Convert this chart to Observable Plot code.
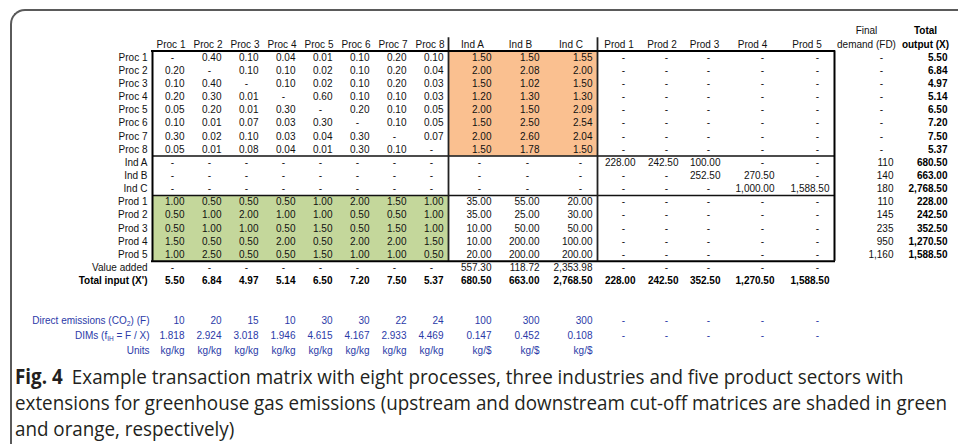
<!DOCTYPE html>
<html><head><meta charset="utf-8">
<script src="https://cdn.jsdelivr.net/npm/d3@7"></script>
<script src="https://cdn.jsdelivr.net/npm/@observablehq/plot@0.6"></script>
<style>
html,body{margin:0;padding:0;background:#fff;width:958px;height:444px;overflow:hidden;}
#frame{position:absolute;left:10px;top:9px;width:1000px;height:500px;border-left:2px solid #5a5a5a;border-top:2px solid #5a5a5a;border-top-left-radius:15px;box-sizing:border-box;}
#chart{position:absolute;left:0;top:0;width:958px;}
#chart svg{display:block;}
#caption{position:absolute;left:15px;top:363px;line-height:26px;color:#231f20;white-space:nowrap;transform-origin:0 0;}
#caption b{margin-right:10px;}
</style></head>
<body>
<div id="frame"></div>
<div id="chart"></div>
<div id="caption"></div>
<script>
// ---------- data ----------
const procCols = ["Proc 1","Proc 2","Proc 3","Proc 4","Proc 5","Proc 6","Proc 7","Proc 8"];
const indCols = ["Ind A","Ind B","Ind C"];
const prodCols = ["Prod 1","Prod 2","Prod 3","Prod 4","Prod 5"];
const sectorCols = [...procCols, ...indCols, ...prodCols];
const sectorRows = sectorCols;
const fdHeader = ["Final", "demand (FD)"];
const toHeader = ["Total", "output (X)"];
const vaLabel = "Value added";
const tiLabel = "Total input (X')";
const extLabels = ["Direct emissions (CO2) (F)", "DIMs (fIH = F / X)", "Units"];

const procProc = [
  [null,0.40,0.10,0.04,0.01,0.10,0.20,0.10],
  [0.20,null,0.10,0.10,0.02,0.10,0.20,0.04],
  [0.10,0.40,null,0.10,0.02,0.10,0.20,0.03],
  [0.20,0.30,0.01,null,0.60,0.10,0.10,0.03],
  [0.05,0.20,0.01,0.30,null,0.20,0.10,0.05],
  [0.10,0.01,0.07,0.03,0.30,null,0.10,0.05],
  [0.30,0.02,0.10,0.03,0.04,0.30,null,0.07],
  [0.05,0.01,0.08,0.04,0.01,0.30,0.10,null]
];
const procInd = [
  [1.50,1.50,1.55],[2.00,2.08,2.00],[1.50,1.02,1.50],[1.20,1.30,1.30],
  [2.00,1.50,2.09],[1.50,2.50,2.54],[2.00,2.60,2.04],[1.50,1.78,1.50]
];
const indProd = [
  [228.00,242.50,100.00,null,null],
  [null,null,252.50,270.50,null],
  [null,null,null,1000.00,1588.50]
];
const prodProc = [
  [1.00,0.50,0.50,0.50,1.00,2.00,1.50,1.00],
  [0.50,1.00,2.00,1.00,1.00,0.50,0.50,1.00],
  [0.50,1.00,1.00,0.50,1.50,0.50,1.50,1.00],
  [1.50,0.50,0.50,2.00,0.50,2.00,2.00,1.50],
  [1.00,2.50,0.50,0.50,1.50,1.00,1.00,0.50]
];
const prodInd = [
  [35.00,55.00,20.00],[35.00,25.00,30.00],[10.00,50.00,50.00],
  [10.00,200.00,100.00],[20.00,200.00,200.00]
];
const finalDemand = [null,null,null,null,null,null,null,null, 110,140,180, 110,145,235,950,1160];
const totalOutput = [5.50,6.84,4.97,5.14,6.50,7.20,7.50,5.37, 680.50,663.00,2768.50, 228.00,242.50,352.50,1270.50,1588.50];
const valueAdded = [null,null,null,null,null,null,null,null, 557.30,118.72,2353.98, null,null,null,null,null];
const totalInput = [5.50,6.84,4.97,5.14,6.50,7.20,7.50,5.37, 680.50,663.00,2768.50, 228.00,242.50,352.50,1270.50,1588.50];
const directEmissions = [10,20,15,10,30,30,22,24, 100,300,300, null,null,null,null,null];
const dims = [1.818,2.924,3.018,1.946,4.615,4.167,2.933,4.469, 0.147,0.452,0.108, null,null,null,null,null];
const units = ["kg/kg","kg/kg","kg/kg","kg/kg","kg/kg","kg/kg","kg/kg","kg/kg","kg/$","kg/$","kg/$","","","","",""];

// ---------- layout (sizes & styles) ----------
const labelWidth = 152;
const colKeys = [...sectorCols, "FD", "TO"];
const colWidths = [37,37,37,37,37,37,37,37, 48,48,53, 43,43,42,54,55, 64,54];
const FONT = "Liberation Sans, Arial, Helvetica, sans-serif";
const FS = 10;
const BLUE = "#2b3aa8";
const ORANGE = "#fac090";
const GREEN = "#c4d79b";

const colLeft = {}, colRight = {};
{ let acc = labelWidth; colKeys.forEach((k,i)=>{ colLeft[k]=acc; acc+=colWidths[i]; colRight[k]=acc; }); }
const colCenter = k => (colLeft[k]+colRight[k])/2;

const fmt2 = d3.format(",.2f"), fmt0 = d3.format(","), fmt3 = d3.format(".3f");

const matrix = sectorRows.map(r => sectorCols.map(c => {
  const pi = procCols.indexOf(r), ii = indCols.indexOf(r), qi = prodCols.indexOf(r);
  const pj = procCols.indexOf(c), ij = indCols.indexOf(c), qj = prodCols.indexOf(c);
  if (pi >= 0 && pj >= 0) return procProc[pi][pj];
  if (pi >= 0 && ij >= 0) return procInd[pi][ij];
  if (ii >= 0 && qj >= 0) return indProd[ii][qj];
  if (qi >= 0 && pj >= 0) return prodProc[qi][pj];
  if (qi >= 0 && ij >= 0) return prodInd[qi][ij];
  return null;
}));

const rowKeys = ["h0","h1", ...sectorRows, vaLabel, tiLabel];
const ri = k => rowKeys.indexOf(k);

const cells = [];
sectorRows.forEach((r,i)=>{
  sectorCols.forEach((c,j)=>{ const v = matrix[i][j]; cells.push({row:r,col:c,text:v==null?"-":fmt2(v),dash:v==null}); });
  const fd = finalDemand[i]; cells.push({row:r,col:"FD",text:fd==null?"-":fmt0(fd),dash:fd==null});
  cells.push({row:r,col:"TO",text:fmt2(totalOutput[i]),bold:true});
});
sectorCols.forEach((c,j)=>{
  const v = valueAdded[j]; cells.push({row:vaLabel,col:c,text:v==null?"-":fmt2(v),dash:v==null});
  cells.push({row:tiLabel,col:c,text:fmt2(totalInput[j]),bold:true});
});

const headers = sectorCols.map(c=>({col:c,row:"h1",text:c}));
headers.push({col:"FD",row:"h0",text:fdHeader[0]},{col:"FD",row:"h1",text:fdHeader[1]});
const boldHeaders = [{col:"TO",row:"h0",text:toHeader[0]},{col:"TO",row:"h1",text:toHeader[1]}];

const rowLabels = [...sectorRows, vaLabel].map(r=>({row:r,text:r}));
const rowLabelsBold = [{row:tiLabel,text:tiLabel}];

const X = d => colRight[d.col];
const XC = d => colCenter(d.col);
const Y = d => ri(d.row) + 0.5;

const blockRect = (cols, rows) => ({x1: colLeft[cols[0]], x2: colRight[cols[cols.length-1]], y1: ri(rows[0]), y2: ri(rows[rows.length-1])+1});
const boxL = colLeft[sectorCols[0]], boxR = colRight[sectorCols[sectorCols.length-1]];
const topY = ri(sectorRows[0]), botY = ri(prodCols[prodCols.length-1]) + 1;

const common = {
  width: 958, margin: 0,
  x: {domain:[0,958], range:[0,958], axis:null},
  style: {fontFamily: FONT, fontSize: FS+"px", background:"transparent", overflow:"visible"}
};

const plot1 = Plot.plot({
  ...common,
  height: 300,
  y: {domain:[0, rowKeys.length], range:[24.1, 24.1 + rowKeys.length*13.15], axis:null},
  marks: [
    Plot.rect([blockRect(indCols, procCols)], {x1:"x1",x2:"x2",y1:"y1",y2:"y2",fill:ORANGE}),
    Plot.rect([blockRect(procCols, prodCols)], {x1:"x1",x2:"x2",y1:"y1",y2:"y2",fill:GREEN}),
    Plot.ruleY([ri(indCols[0]), ri(prodCols[0])], {x1:boxL, x2:boxR, stroke:"#111", strokeWidth:1.5}),
    Plot.ruleX([colRight[procCols[7]], colRight[indCols[2]]], {y1:ri("h1"), y2:botY, stroke:"#222", strokeWidth:1.8}),
    Plot.ruleY([topY, botY], {x1:boxL-1, x2:boxR+1, stroke:"#000", strokeWidth:2}),
    Plot.ruleX([boxL, boxR], {y1:topY, y2:botY, stroke:"#000", strokeWidth:2}),
    Plot.text(cells.filter(d=>!d.dash && !d.bold), {x:X, y:Y, text:"text", textAnchor:"end", dx:-5, fill:"#111"}),
    Plot.text(cells.filter(d=>d.bold), {x:X, y:Y, text:"text", textAnchor:"end", dx:-5, fontWeight:"bold", fill:"#000"}),
    Plot.text(cells.filter(d=>d.dash), {x:X, y:Y, text:"text", textAnchor:"middle", dx:-17, fill:"#111"}),
    Plot.text(headers, {x:XC, y:Y, text:"text", fill:"#111"}),
    Plot.text(boldHeaders, {x:XC, y:Y, text:"text", fontWeight:"bold", fill:"#000"}),
    Plot.text(rowLabels, {x:labelWidth, y:Y, text:"text", textAnchor:"end", dx:-5, fill:"#111"}),
    Plot.text(rowLabelsBold, {x:labelWidth, y:Y, text:"text", textAnchor:"end", dx:-5, fontWeight:"bold", fill:"#000"})
  ]
});

const extCells = [];
sectorCols.forEach((c,j)=>{
  const e = directEmissions[j]; extCells.push({row:0,col:c,text:e==null?"-":fmt0(e),dash:e==null});
  const f = dims[j]; extCells.push({row:1,col:c,text:f==null?"-":fmt3(f),dash:f==null});
  if (units[j]) extCells.push({row:2,col:c,text:units[j]});
});
const extLabelData = extLabels.map((t,i)=>({row:i,text:t}));

const plot2 = Plot.plot({
  ...common,
  height: 62,
  y: {domain:[0,3], range:[12.5,57.5], axis:null},
  marks: [
    Plot.text(extCells.filter(d=>!d.dash), {x:X, y:d=>d.row+0.5, text:"text", textAnchor:"end", dx:-5, fill:BLUE}),
    Plot.text(extCells.filter(d=>d.dash), {x:X, y:d=>d.row+0.5, text:"text", textAnchor:"middle", dx:-17, fill:BLUE}),
    Plot.text(extLabelData, {x:labelWidth, y:d=>d.row+0.5, text:"text", textAnchor:"end", dx:-3, fill:BLUE})
  ]
});

plot2.querySelectorAll("text").forEach(t=>{
  const s = t.textContent;
  if (s === extLabels[0]) {
    t.innerHTML = 'Direct emissions (CO<tspan dy="2" font-size="7">2</tspan><tspan dy="-2">) (F)</tspan>';
  } else if (s === extLabels[1]) {
    t.innerHTML = 'DIMs (f<tspan dy="2" font-size="6.5">IH</tspan><tspan dy="-2"> = F / X)</tspan>';
  }
});

document.getElementById("chart").append(plot1, plot2);

// caption
const cap = document.getElementById("caption");
const lines = [
  ["Fig. 4", "Example transaction matrix with eight processes, three industries and five product sectors with"],
  [null, "extensions for greenhouse gas emissions (upstream and downstream cut-off matrices are shaded in green"],
  [null, "and orange, respectively)"]
];
cap.style.fontFamily = "'Open Sans', 'Noto Sans', sans-serif";
cap.style.fontSize = "20.5px";
lines.forEach(([b, t], i) => {
  if (b) { const e = document.createElement("b"); e.textContent = b; cap.append(e); }
  const s = document.createElement("span"); s.textContent = t; cap.append(s);
  if (i < lines.length - 1) cap.append(document.createElement("br"));
});
const spans = cap.querySelectorAll("span");
const w2 = spans[1].getBoundingClientRect().width;
cap.style.transform = `scaleX(${(932 / w2).toFixed(4)})`;
</script>
</body></html>
